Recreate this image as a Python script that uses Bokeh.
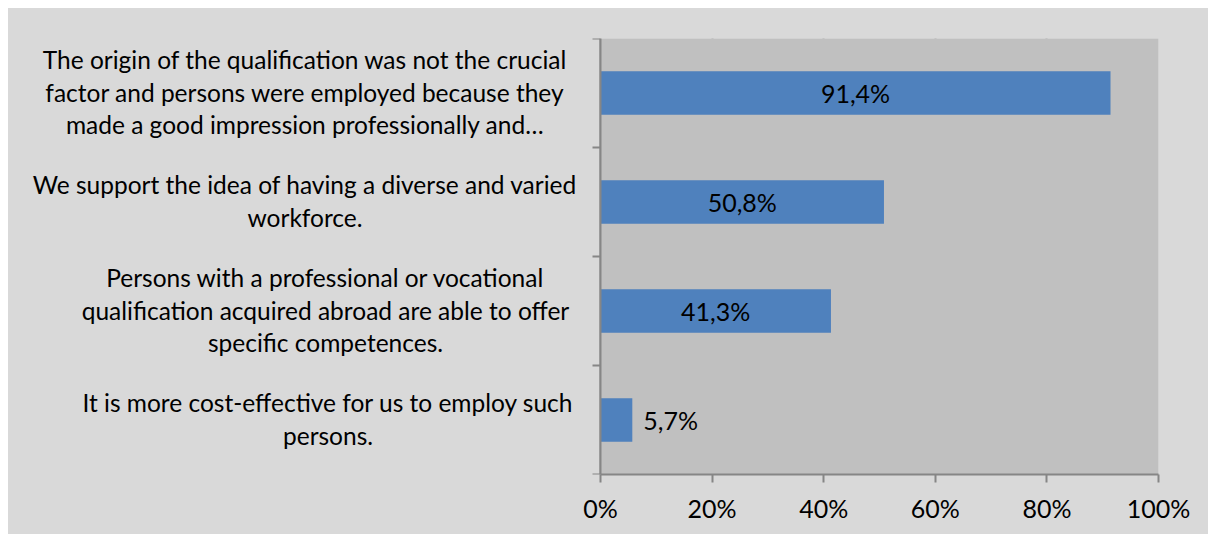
from bokeh.plotting import figure
from bokeh.models import ColumnDataSource, FixedTicker
from bokeh.core.properties import value
from bokeh.embed import file_html
from bokeh.resources import INLINE

categories = [
    ["The origin of the qualification was not the crucial",
     "factor and persons were employed because they",
     "made a good impression professionally and\u2026"],
    ["We support the idea of having a diverse and varied",
     "workforce."],
    ["Persons with a professional or vocational",
     "qualification acquired abroad are able to offer",
     "specific competences."],
    ["It is more cost-effective for us to employ such",
     "persons."],
]
values = [91.4, 50.8, 41.3, 5.7]
value_labels = ["91,4%", "50,8%", "41,3%", "5,7%"]
x_ticks = [0, 20, 40, 60, 80, 100]
x_tick_labels = ["0%", "20%", "40%", "60%", "80%", "100%"]

FONT = "Lato"
FS = "25px"
CAT_FS = "24.5px"
OUTER_BG = "#d9d9d9"

# layout (pixels)
W, H = 1200, 526
BORDER_L, BORDER_R, BORDER_T, BORDER_B = 15, 50, 30, 60
PLOT_LEFT_PX = 592 - BORDER_L   # distance from frame left to the 0% line
frame_w = W - BORDER_L - BORDER_R
px_per_unit = (frame_w - PLOT_LEFT_PX) / 100.0
x_start = -PLOT_LEFT_PX / px_per_unit

n = len(categories)
ys = [n - i - 0.5 for i in range(n)]
frame_h = H - BORDER_T - BORDER_B
px_per_cat = frame_h / n

p = figure(width=W, height=H, x_range=(x_start, 100), y_range=(0, n),
           output_backend="svg", toolbar_location=None,
           min_border_left=BORDER_L, min_border_right=BORDER_R,
           min_border_top=BORDER_T, min_border_bottom=BORDER_B)
p.margin = (8, 0, 0, 8)
p.styles = {"background-color": OUTER_BG}
p.background_fill_color = None
p.border_fill_color = None
p.outline_line_color = None

# plot area
p.quad(left=[0], right=[100], bottom=[0], top=[n], fill_color="#c0c0c0",
       line_color=None)

p.xgrid.ticker = FixedTicker(ticks=x_ticks)
p.xgrid.grid_line_color = "#868686"
p.xgrid.grid_line_width = 2
p.ygrid.grid_line_color = None

src = ColumnDataSource(dict(y=ys, right=values))
p.hbar(y="y", left=0, right="right", height=0.4, source=src,
       fill_color="#4f81bd", line_color=None)

inside = [v >= 10 for v in values]
lx = [v / 2 if ins else v for v, ins in zip(values, inside)]
src_in = ColumnDataSource(dict(x=[a for a, b in zip(lx, inside) if b],
                               y=[a for a, b in zip(ys, inside) if b],
                               t=[a for a, b in zip(value_labels, inside) if b]))
src_out = ColumnDataSource(dict(x=[a for a, b in zip(lx, inside) if not b],
                                y=[a for a, b in zip(ys, inside) if not b],
                                t=[a for a, b in zip(value_labels, inside) if not b]))
p.text(x="x", y="y", text="t", source=src_in, text_align="center",
       text_baseline="middle", text_font=value(FONT), text_font_size=FS,
       text_color="black")
p.text(x="x", y="y", text="t", source=src_out, text_align="left",
       text_baseline="middle", x_offset=11, text_font=value(FONT),
       text_font_size=FS, text_color="black")

# category labels: centred lines; widest line ends ~25px left of the axis
label_gap_px = 25.0
block_width_px = [541, 541, 500, 495]
line_step = 32.5 / px_per_cat
lab_x, lab_y, lab_t = [], [], []
for lines, y, w in zip(categories, ys, block_width_px):
    cx = -(label_gap_px + w / 2) / px_per_unit
    k = len(lines)
    for j, line in enumerate(lines):
        lab_x.append(cx)
        lab_y.append(y + ((k - 1) / 2 - j) * line_step)
        lab_t.append(line)
p.text(x=lab_x, y=lab_y, text=lab_t, text_align="center",
       text_baseline="middle", y_offset=-1, text_font=value(FONT),
       text_font_size=CAT_FS, text_color="black")

# x axis, limited to the plot area
xa = p.xaxis[0]
xa.ticker = FixedTicker(ticks=x_ticks)
xa.bounds = (0, 100)
xa.major_label_overrides = {t: l for t, l in zip(x_ticks, x_tick_labels)}
xa.major_label_text_font = FONT
xa.major_label_text_font_size = FS
xa.major_label_text_color = "black"
xa.axis_line_color = "#868686"
xa.axis_line_width = 2
xa.major_tick_line_color = "#868686"
xa.major_tick_line_width = 2
xa.major_tick_out = 8
xa.major_tick_in = 0
xa.minor_tick_line_color = None
xa.major_label_standoff = 10

# y axis at 0%, ticks at category boundaries
ya = p.yaxis[0]
ya.fixed_location = 0
ya.ticker = FixedTicker(ticks=list(range(n + 1)))
ya.major_label_overrides = {i: "" for i in range(n + 1)}
ya.major_label_standoff = 0
ya.axis_line_color = "#868686"
ya.axis_line_width = 2
ya.major_tick_line_color = "#868686"
ya.major_tick_line_width = 2
ya.major_tick_out = 8
ya.major_tick_in = 0
ya.minor_tick_line_color = None

open("out.html", "w").write(file_html(p, INLINE))
